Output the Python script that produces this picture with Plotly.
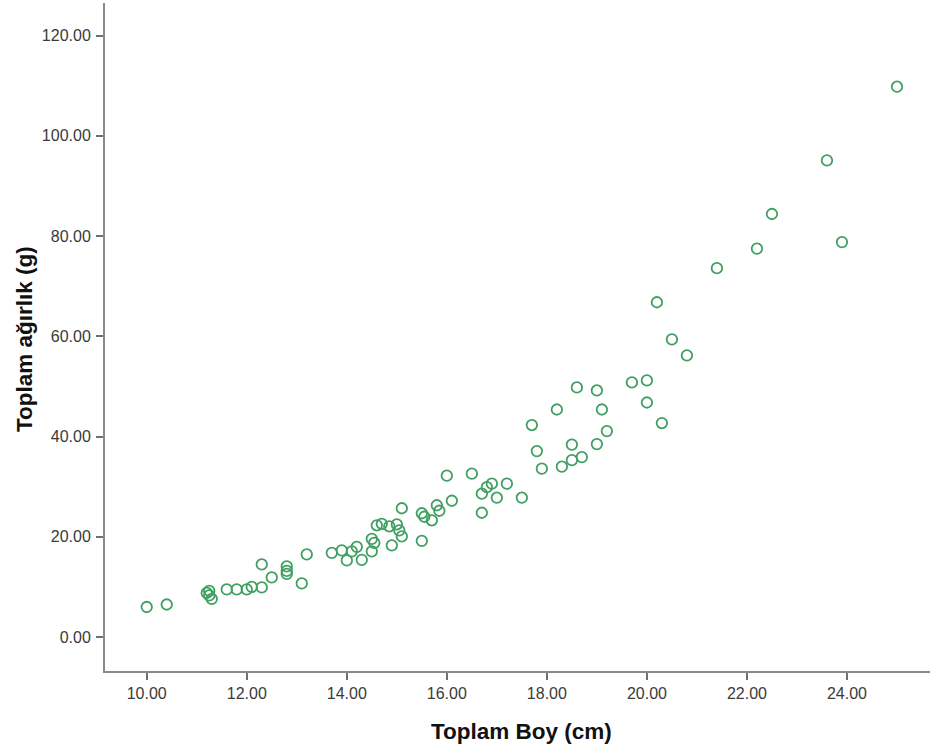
import plotly.graph_objects as go

toplam_boy = [10.0, 10.4, 11.2, 11.25, 11.25, 11.3, 11.6, 11.8, 12.0, 12.1, 12.3, 12.3, 12.5,
              12.8, 12.8, 12.8, 13.1, 13.2, 13.7, 13.9, 14.0, 14.1, 14.2, 14.3, 14.5, 14.5,
              14.55, 14.6, 14.7, 14.85, 14.9, 15.0, 15.05, 15.1, 15.1, 15.5, 15.5, 15.55,
              15.7, 15.8, 15.85, 16.0, 16.1, 16.5, 16.7, 16.7, 16.8, 16.9, 17.0, 17.2, 17.5,
              17.7, 17.8, 17.9, 18.2, 18.3, 18.5, 18.5, 18.6, 18.7, 19.0, 19.0, 19.1, 19.2,
              19.7, 20.0, 20.0, 20.2, 20.3, 20.5, 20.8, 21.4, 22.2, 22.5, 23.6, 23.9, 25.0]
toplam_agirlik = [6.0, 6.5, 8.8, 9.2, 8.3, 7.6, 9.5, 9.5, 9.5, 10.0, 9.9, 14.5, 11.9,
                  14.1, 13.2, 12.6, 10.7, 16.5, 16.8, 17.3, 15.3, 17.1, 18.0, 15.4, 17.1, 19.6,
                  18.8, 22.3, 22.6, 22.1, 18.3, 22.5, 21.3, 20.1, 25.7, 19.2, 24.7, 24.0,
                  23.3, 26.3, 25.2, 32.2, 27.2, 32.6, 28.6, 24.8, 29.9, 30.6, 27.8, 30.6, 27.8,
                  42.3, 37.1, 33.6, 45.4, 34.0, 38.4, 35.3, 49.8, 35.9, 49.2, 38.5, 45.4, 41.1,
                  50.8, 51.2, 46.8, 66.8, 42.7, 59.4, 56.2, 73.6, 77.5, 84.4, 95.1, 78.8, 109.8]

x_ticks = [10, 12, 14, 16, 18, 20, 22, 24]
y_ticks = [0, 20, 40, 60, 80, 100, 120]

FONT = "Liberation Sans, Arial, sans-serif"
GREEN = "#3fa062"

fig = go.Figure()
fig.add_trace(go.Scatter(
    x=toplam_boy, y=toplam_agirlik, mode="markers",
    marker=dict(symbol="circle-open", size=10.5, color=GREEN, line=dict(width=1.8, color=GREEN)),
    showlegend=False, hoverinfo="x+y"))

axis_common = dict(showline=True, linecolor="#8a8a8a", linewidth=2, ticks="outside",
                   ticklen=7, tickwidth=2, tickcolor="#6f6f6f", showgrid=False, zeroline=False,
                   automargin=False, tickformat=".2f",
                   tickfont=dict(family=FONT, size=16, color="#3a3a3a"))

fig.update_layout(
    width=933, height=755,
    margin=dict(l=105, r=3, t=3, b=84, autoexpand=False),
    plot_bgcolor="white", paper_bgcolor="white",
    xaxis=dict(range=[9.166, 25.66], tickvals=x_ticks, **axis_common),
    yaxis=dict(range=[-6.77, 126.5], tickvals=y_ticks, ticklabelstandoff=2, **axis_common),
    annotations=[
        dict(text="<b>Toplam Boy (cm)</b>", xref="paper", yref="paper", x=0.505, y=0,
             xanchor="center", yanchor="middle", yshift=-60, showarrow=False,
             font=dict(family=FONT, size=22.5, color="#111111")),
        dict(text="<b>Toplam ağırlık (g)</b>", xref="paper", yref="paper", x=0, y=0.497,
             xanchor="center", yanchor="middle", xshift=-81, textangle=-90, showarrow=False,
             font=dict(family=FONT, size=22.5, color="#111111")),
    ],
)

fig.write_html("out.html", config={"displayModeBar": False},
               post_script="document.body.style.margin='0';document.body.style.overflow='hidden';")
